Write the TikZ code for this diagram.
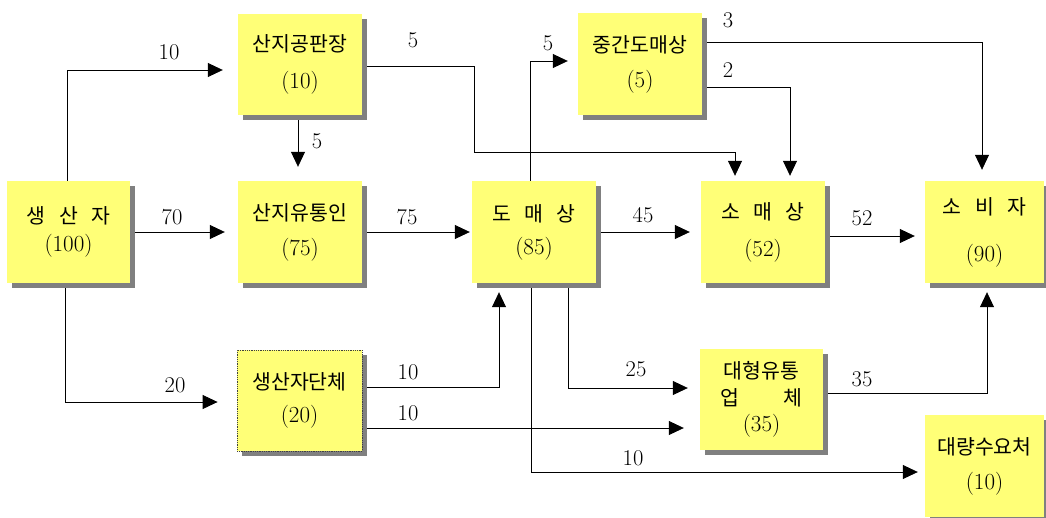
\documentclass[tikz,border=0pt]{standalone}
\usepackage{fontspec}
\newfontfamily\kr{Noto Sans CJK KR}
\usetikzlibrary{shadows,arrows.meta}
\pgfdeclarelayer{bg}
\pgfsetlayers{bg,main}
\definecolor{boxy}{RGB}{255,255,119}
\definecolor{shadowgray}{RGB}{128,128,128}
\newcommand\g{\hspace{0.65em}}
\newcommand\K[1]{{\kr\fontsize{20.5}{22}\selectfont #1}}
\begin{document}
\begin{tikzpicture}[x=1pt,y=-1pt,
  box/.style={fill=boxy, minimum width=124pt, minimum height=102pt, inner sep=0pt,
    align=center, font=\fontsize{23}{22}\selectfont,
    drop shadow={shadow xshift=5pt, shadow yshift=-5pt, fill=shadowgray, opacity=1}},
  lab/.style={font=\fontsize{22.5}{22}\selectfont, inner sep=0pt},
  arr/.style={-{Triangle[length=15pt,width=14pt]}, line width=0.8pt}]
\useasboundingbox (0,0) rectangle (1046,517);

% boxes
\node[box, minimum width=123pt] (P) at (68.5,232) {\K{생\g 산\g 자}\\[6pt](100)};
\node[box, minimum height=101pt] (A) at (300,64.5) {\K{산지공판장}\\[15pt](10)};
\node[box] (B) at (300,232) {\K{산지유통인}\\[13pt](75)};
\node[box, minimum width=125pt, minimum height=101pt, draw=black!75, densely dotted, line width=0.8pt] (C) at (299.5,400.5) {\K{생산자단체}\\[11pt](20)};
\node[box] (W) at (534,232) {\K{도\g 매\g 상}\\[11pt](85)};
\node[box] (M) at (640,64) {\K{중간도매상}\\[13pt](5)};
\node[box] (R) at (763,232) {\K{소\g 매\g 상}\\[15pt](52)};
\node[box, minimum width=123pt, minimum height=101pt] (L) at (761.5,399.5) {\K{대형유통}\\[5pt]\K{\makebox[4em]{업\hfill 체}}\\[4pt](35)};
\node[box, minimum width=119pt] (S) at (984.5,232) {\K{소\g 비\g 자}\\[25pt](90)};
\node[box, minimum width=119pt] (Q) at (984.5,466) {\K{대량수요처}\\[13pt](10)};

% bend coordinates
\coordinate (c1) at (67,70);
\coordinate (c3) at (65,402);
\coordinate (c5a) at (474,66);
\coordinate (c5b) at (474,152);
\coordinate (c5c) at (735,152);
\coordinate (c7) at (530,61);
\coordinate (c9) at (982,42);
\coordinate (c10) at (790,87);
\coordinate (c11) at (0,236);
\coordinate (c12) at (499,387);
\coordinate (c13) at (0,428);
\coordinate (c14) at (568,388);
\coordinate (c15) at (531,472);
\coordinate (c16) at (987,393);

\begin{pgfonlayer}{bg}
\draw[arr] (P.north -| c1) -- (c1) -- ([xshift=-15pt]A.west |- c1);
\draw[arr] (P.east) -- ([xshift=-13pt]B.west);
\draw[arr] (P.south -| c3) -- (c3) -- ([xshift=-19pt]C.west |- c3);
\draw[arr] ([xshift=-2pt]A.south) -- ([xshift=-2pt,yshift=14pt]B.north);
\draw[arr] (A.east |- c5a) -- (c5a) -- (c5b) -- (c5c) -- ([yshift=5pt]R.north -| c5c);
\draw[arr] (B.east) -- ([xshift=-2pt]W.west);
\draw[arr] (W.north -| c7) -- (c7) -- ([xshift=-10pt]M.west |- c7);
\draw[arr] (W.east) -- ([xshift=-11pt]R.west);
\draw[arr] (M.east |- c9) -- (c9) -- ([yshift=11pt]S.north -| c9);
\draw[arr] (M.east |- c10) -- (c10) -- ([yshift=5pt]R.north -| c10);
\draw[arr] (R.east |- c11) -- ([xshift=-10pt]S.west |- c11);
\draw[arr] (C.east |- c12) -- (c12) -- ([yshift=-9pt]W.south -| c12);
\draw[arr] (C.east |- c13) -- ([xshift=-16pt]L.west |- c13);
\draw[arr] (W.south -| c14) -- (c14) -- ([xshift=-12pt]L.west |- c14);
\draw[arr] (W.south -| c15) -- (c15) -- ([xshift=-7pt]Q.west |- c15);
\draw[arr] (L.east |- c16) -- (c16) -- ([yshift=-9pt]S.south -| c16);
\end{pgfonlayer}

% labels
\node[lab] (l1) at (169,52) {10};
\node[lab] (l2) at (172,217) {70};
\node[lab] (l3) at (175,385) {20};
\node[lab] (l4) at (317,141) {5};
\node[lab] (l5) at (413,40) {5};
\node[lab] (l6) at (407,217) {75};
\node[lab] (l7) at (548,43) {5};
\node[lab] (l8) at (643,215) {45};
\node[lab] (l9) at (728,20) {3};
\node[lab] (l10) at (728,70) {2};
\node[lab] (l11) at (862,218) {52};
\node[lab] (l12) at (408,372) {10};
\node[lab] (l13) at (408,413) {10};
\node[lab] (l14) at (636,369) {25};
\node[lab] (l15) at (633,458) {10};
\node[lab] (l16) at (862,379) {35};
\end{tikzpicture}
\end{document}
